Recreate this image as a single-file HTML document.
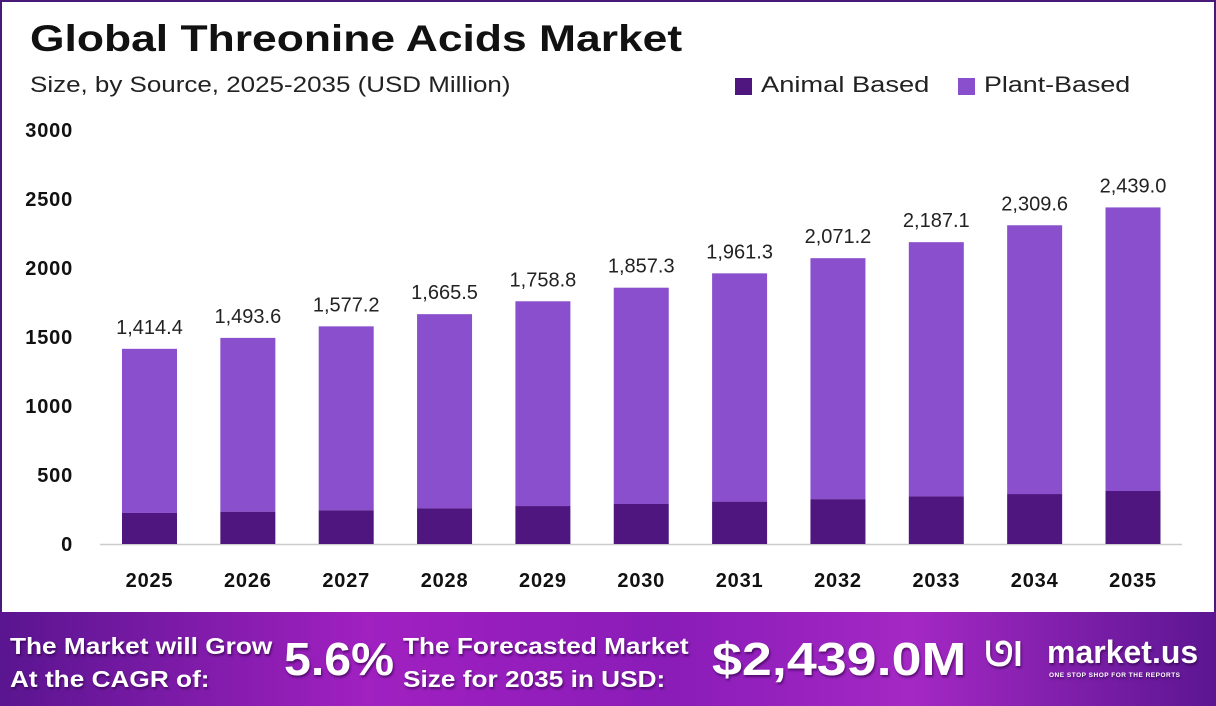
<!DOCTYPE html>
<html><head><meta charset="utf-8"><style>
body{margin:0;width:1216px;height:706px;overflow:hidden;background:#fff;font-family:"Liberation Sans",sans-serif}
#wrap{position:absolute;left:0;top:0;width:1212px;height:612px;border:2px solid #4a1a7a;border-bottom:none;background:#fff}
.t{position:absolute;white-space:nowrap;transform-origin:0 0}
#footer{position:absolute;left:0;top:612px;width:1216px;height:94px;background:linear-gradient(90deg,#5a1590 0%,#a020c0 30%,#8a1cb8 55%,#a428c4 75%,#5c1692 100%)}
.f{position:absolute;color:#fff;font-weight:bold;white-space:nowrap;text-shadow:1px 2px 2px rgba(40,0,60,.6);transform-origin:0 0}
</style></head><body>
<div id="wrap"></div>
<div class="t" style="left:30px;top:18px;font-size:37px;font-weight:bold;color:#111;transform:scaleX(1.2)">Global Threonine Acids Market</div>
<div class="t" style="left:30px;top:72px;font-size:22px;color:#222;transform:scaleX(1.18)">Size, by Source, 2025-2035 (USD Million)</div>
<div><div class="t" style="left:735px;top:78px;width:17px;height:17px;background:#4f1680"></div><div class="t" style="left:761px;top:72px;font-size:22px;color:#222;transform:scaleX(1.24)">Animal Based</div></div>
<div><div class="t" style="left:958px;top:78px;width:17px;height:17px;background:#8a4fcc"></div><div class="t" style="left:984px;top:72px;font-size:22px;color:#222;transform:scaleX(1.22)">Plant-Based</div></div>
<svg id="chart" width="1216" height="612" style="position:absolute;left:0;top:0"></svg>
<div id="footer">
<div class="f" style="left:10px;top:18px;font-size:23px;line-height:33px;transform:scaleX(1.14)">The Market will Grow<br>At the CAGR of:</div>
<div class="f" style="left:284px;top:20px;font-size:46px;transform:scaleX(1.05)">5.6%</div>
<div class="f" style="left:403px;top:18px;font-size:23px;line-height:33px;transform:scaleX(1.14)">The Forecasted Market<br>Size for 2035 in USD:</div>
<div class="f" style="left:712px;top:20px;font-size:46px;transform:scaleX(1.17)">$2,439.0M</div>
<div class="f" style="left:985px;top:24px;font-size:34px">ᘎl</div>
<div class="f" style="left:1047px;top:22px;font-size:32px">market.us</div>
<div class="f" style="left:1049px;top:60px;font-size:6.5px;letter-spacing:.5px">ONE STOP SHOP FOR THE REPORTS</div>
</div>
<script>
const years=["2025","2026","2027","2028","2029","2030","2031","2032","2033","2034","2035"];
const totals=[1414.4,1493.6,1577.2,1665.5,1758.8,1857.3,1961.3,2071.2,2187.1,2309.6,2439.0];
const animal=[225,234,244,259,275,290,307,325,345,362,384];
const totalLabels=["1,414.4","1,493.6","1,577.2","1,665.5","1,758.8","1,857.3","1,961.3","2,071.2","2,187.1","2,309.6","2,439.0"];
const yTicks=[0,500,1000,1500,2000,2500,3000];
const svg=document.getElementById('chart');const NS='http://www.w3.org/2000/svg';
const y=v=>544-v*0.138;
const x=i=>149.5+i*98.35;
function mk(tag,attrs,txt){const e=document.createElementNS(NS,tag);for(const k in attrs)e.setAttribute(k,attrs[k]);if(txt!=null)e.textContent=txt;svg.appendChild(e);return e;}
yTicks.forEach(t=>{const e=mk('text',{x:73,y:y(t)+7,'text-anchor':'end','font-size':20,'font-weight':'bold',fill:'#111','font-family':'Liberation Sans','letter-spacing':'0.8'},String(t));

});
const ax=mk('line',{x1:100,x2:1182,y1:544.5,y2:544.5,stroke:'#ccc','stroke-width':1.5});


years.forEach((yr,i)=>{const w=55,cx=x(i);
const p=mk('rect',{x:cx-w/2,y:y(totals[i]),width:w,height:y(animal[i])-y(totals[i]),fill:'#8a4fcc'});


const a=mk('rect',{x:cx-w/2,y:y(animal[i]),width:w,height:544-y(animal[i]),fill:'#4f1680'});


const l=mk('text',{x:cx,y:y(totals[i])-15,'text-anchor':'middle','font-size':20,fill:'#222','font-family':'Liberation Sans'},totalLabels[i]);


const xl=mk('text',{x:cx,y:587,'text-anchor':'middle','font-size':20,'font-weight':'bold',fill:'#111','font-family':'Liberation Sans','letter-spacing':'0.8'},yr);

});
</script>
</body></html>
